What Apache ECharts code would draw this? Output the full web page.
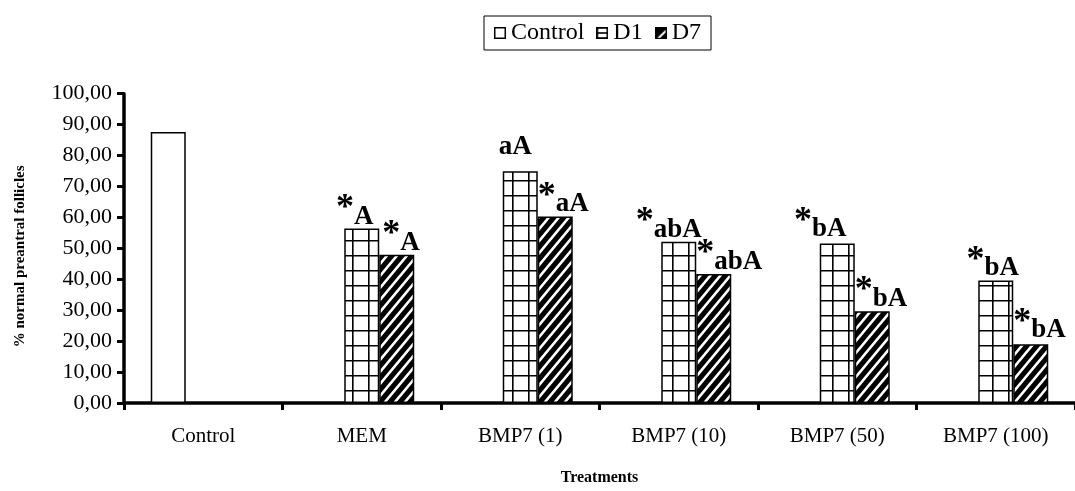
<!DOCTYPE html>
<html>
<head>
<meta charset="utf-8">
<script src="https://cdn.jsdelivr.net/npm/echarts@6/dist/echarts.min.js"></script>
<style>
html,body{margin:0;padding:0;background:#fff;}
#chart{width:1075px;height:491px;}
</style>
</head>
<body>
<div id="chart"></div>
<script>
// ---- data ----
const categories = ['Control', 'MEM', 'BMP7 (1)', 'BMP7 (10)', 'BMP7 (50)', 'BMP7 (100)'];
const seriesNames = ['Control', 'D1', 'D7'];
const controlValues = [87.6, null, null, null, null, null];
const d1Values = [null, 56.4, 74.9, 52.1, 51.6, 39.6];
const d7Values = [null, 47.9, 60.3, 41.7, 29.7, 19.0];
const d1Labels = ['', '*A', 'aA', '*abA', '*bA', '*bA'];
const d7Labels = ['', '*A', '*aA', '*abA', '*bA', '*bA'];
const yTicks = [0, 10, 20, 30, 40, 50, 60, 70, 80, 90, 100];

// ---- styling helpers ----
const FONT = '"Liberation Serif", "Times New Roman", serif';

function makeTile(w, h, draw) {
  const c = document.createElement('canvas');
  c.width = w; c.height = h;
  const ctx = c.getContext('2d');
  draw(ctx, w, h);
  return c;
}
const gridTile = makeTile(16, 15, (ctx, w, h) => {
  ctx.fillStyle = '#fff'; ctx.fillRect(0, 0, w, h);
  ctx.strokeStyle = '#000'; ctx.lineWidth = 1.6;
  ctx.beginPath();
  ctx.moveTo(0.8, 0); ctx.lineTo(0.8, h);
  ctx.moveTo(0, 0.8); ctx.lineTo(w, 0.8);
  ctx.stroke();
});
const stripeTile = makeTile(10, 12, (ctx, w, h) => {
  ctx.fillStyle = '#000'; ctx.fillRect(0, 0, w, h);
  ctx.strokeStyle = '#fff'; ctx.lineWidth = 2.6;
  ctx.beginPath();
  ctx.moveTo(0, h); ctx.lineTo(w, 0);
  ctx.moveTo(-w, h); ctx.lineTo(w, -h);
  ctx.moveTo(0, 2 * h); ctx.lineTo(2 * w, 0);
  ctx.stroke();
});

const iconControl = makeTile(12, 12, (ctx) => {
  ctx.fillStyle = '#fff'; ctx.fillRect(0, 0, 12, 12);
  ctx.strokeStyle = '#000'; ctx.lineWidth = 1.5; ctx.strokeRect(0.75, 0.75, 10.5, 10.5);
}).toDataURL();
const iconD1 = makeTile(12, 12, (ctx) => {
  ctx.fillStyle = '#fff'; ctx.fillRect(0, 0, 12, 12);
  ctx.strokeStyle = '#000'; ctx.lineWidth = 1.8; ctx.strokeRect(0.9, 0.9, 10.2, 10.2);
  ctx.lineWidth = 1.6; ctx.beginPath(); ctx.moveTo(0, 6); ctx.lineTo(12, 6); ctx.stroke();
}).toDataURL();
const iconD7 = makeTile(12, 12, (ctx) => {
  ctx.fillStyle = '#000'; ctx.fillRect(0, 0, 12, 12);
  ctx.strokeStyle = '#fff'; ctx.lineWidth = 2; ctx.beginPath(); ctx.moveTo(3, 12); ctx.lineTo(12, 3); ctx.stroke();
  ctx.strokeStyle = '#000'; ctx.lineWidth = 1.2; ctx.strokeRect(0.6, 0.6, 10.8, 10.8);
}).toDataURL();

// per-point label nudges (layout only)
const d1LabelNudge = [[0,0],[-7,0],[-5,-12],[-10,0],[-17,-2],[-3,0]];
const d7LabelNudge = [[0,0],[3,0],[0,0],[0,0],[0,0],[0,-2]];

const LH = 54;
const rich = {
  s: { fontFamily: FONT, fontSize: 36, fontWeight: 'bold', color: '#000', padding: [0, 0, 16, 0], lineHeight: LH },
  t: { fontFamily: FONT, fontSize: 27, fontWeight: 'bold', color: '#000', lineHeight: LH }
};
function richText(txt) {
  if (!txt) return '';
  if (txt[0] === '*') return '{s|*}{t|' + txt.slice(1) + '}';
  return '{t|' + txt + '}';
}
const LABEL_BASE_DY = 15;

const d1Data = d1Values.map((v, i) => ({
  value: v,
  label: {
    show: !!d1Labels[i],
    formatter: richText(d1Labels[i]),
    position: [17.5 + d1LabelNudge[i][0], LABEL_BASE_DY + d1LabelNudge[i][1]],
    align: 'center', verticalAlign: 'bottom', rich
  }
}));
const d7Data = d7Values.map((v, i) => ({
  value: v,
  label: {
    show: !!d7Labels[i],
    formatter: richText(d7Labels[i]),
    position: [d7LabelNudge[i][0], LABEL_BASE_DY + d7LabelNudge[i][1]],
    align: 'left', verticalAlign: 'bottom', rich
  }
}));

const chart = echarts.init(document.getElementById('chart'), null, { renderer: 'canvas' });
chart.setOption({
  animation: false,
  backgroundColor: '#fff',
  textStyle: { fontFamily: FONT, color: '#000' },
  legend: {
    left: 484, top: 16,
    data: [
      { name: seriesNames[0], icon: 'image://' + iconControl },
      { name: seriesNames[1], icon: 'image://' + iconD1 },
      { name: seriesNames[2], icon: 'image://' + iconD7 }
    ],
    itemWidth: 12, itemHeight: 12, itemGap: 12,
    padding: [5, 10],
    borderColor: '#000', borderWidth: 1,
    textStyle: { fontFamily: FONT, fontSize: 24, color: '#000' },
    selectedMode: false
  },
  grid: { left: 124, top: 93.7, width: 954, height: 311, containLabel: false },
  xAxis: {
    type: 'category',
    data: categories,
    name: 'Treatments',
    nameLocation: 'middle',
    nameGap: 67,
    nameTextStyle: { fontFamily: FONT, fontSize: 16, fontWeight: 'bold', color: '#000' },
    axisLine: { lineStyle: { color: '#000', width: 3.5 } },
    axisTick: { show: true, alignWithLabel: false, length: 7, lineStyle: { color: '#000', width: 3 } },
    axisLabel: { fontFamily: FONT, fontSize: 21, color: '#000', margin: 23 },
    splitLine: { show: false }
  },
  yAxis: {
    type: 'value',
    min: 0, max: 100, interval: 10,
    name: '% normal preantral follicles',
    nameLocation: 'middle',
    nameGap: 96,
    nameRotate: 90,
    nameTextStyle: { fontFamily: FONT, fontSize: 15, fontWeight: 'bold', color: '#000', padding: [0, 16, 0, 0] },
    axisLine: { show: true, lineStyle: { color: '#000', width: 3.5 } },
    axisTick: { show: true, length: 7, lineStyle: { color: '#000', width: 3 } },
    axisLabel: {
      fontFamily: FONT, fontSize: 22, color: '#000', margin: 12,
      formatter: (v) => yTicks.indexOf(v) >= 0 ? v.toFixed(2).replace('.', ',') : ''
    },
    splitLine: { show: false }
  },
  series: [
    {
      name: seriesNames[0], type: 'bar', data: controlValues,
      barWidth: 35, barGap: '0%',
      itemStyle: { color: '#fff', borderColor: '#000', borderWidth: 1.5 }
    },
    {
      name: seriesNames[1], type: 'bar', data: d1Data,
      barWidth: 35, barGap: '0%',
      itemStyle: { color: { image: gridTile, repeat: 'repeat' }, borderColor: '#000', borderWidth: 1.5 }
    },
    {
      name: seriesNames[2], type: 'bar', data: d7Data,
      barWidth: 35, barGap: '0%',
      itemStyle: { color: { image: stripeTile, repeat: 'repeat' }, borderColor: '#000', borderWidth: 1.5 }
    }
  ]
});
</script>
</body>
</html>
